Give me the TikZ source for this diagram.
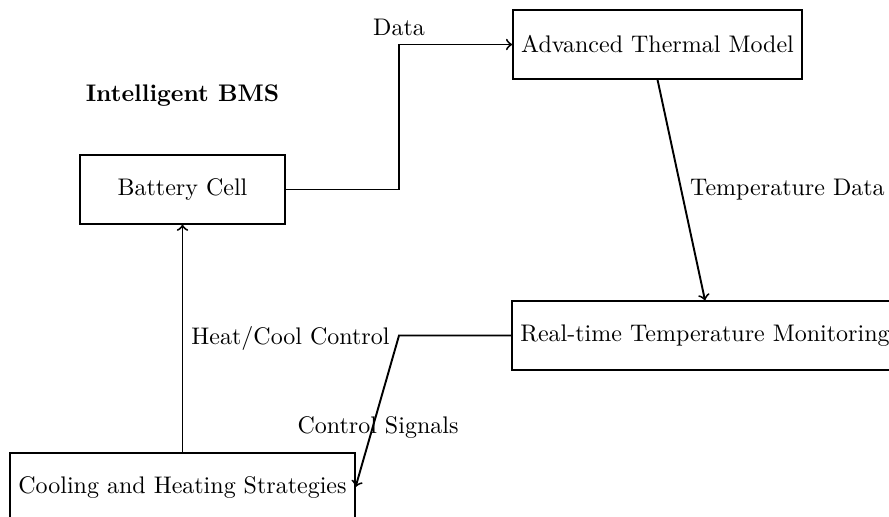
\documentclass[tikz,border=0pt]{standalone}
\begin{document}
\begin{tikzpicture}[x=0.4167pt, y=-0.4167pt,
  block/.style={draw, thick, rectangle, minimum width=3cm, minimum height=1cm, align=center},
  flow/.style={draw, thick, ->}]
  \useasboundingbox (0,0) rectangle (889,516);

  % title
  \node[font=\bfseries] (title) at (182.5,96) {Intelligent BMS};

  % blocks
  \node[block] (cell)  at (182.5,189.5) {Battery Cell};
  \node[block] (model) at (657.5,44.5)  {Advanced Thermal Model};
  \node[block] (mon)   at (705,335.5)   {Real-time Temperature Monitoring};
  \node[block] (cool)  at (182.5,487)   {Cooling and Heating Strategies};

  % bend column shared by two connectors
  \coordinate (bend) at (399,0);

  % connectors
  \draw[flow] (cell.east) -- (cell.east -| bend)
      -- (bend |- model.west) node[above] {Data} -- (model.west);
  \draw[flow] (model.south) -- node[midway, right] {Temperature Data} (mon.north);
  \draw[flow] (mon.west) -- (mon.west -| bend)
      -- node[pos=0.61, xshift=2.3pt] {Control Signals} (cool.east);
  \draw[flow] (cool.north) -- node[midway, right] {Heat/Cool Control} (cell.south);
\end{tikzpicture}
\end{document}
